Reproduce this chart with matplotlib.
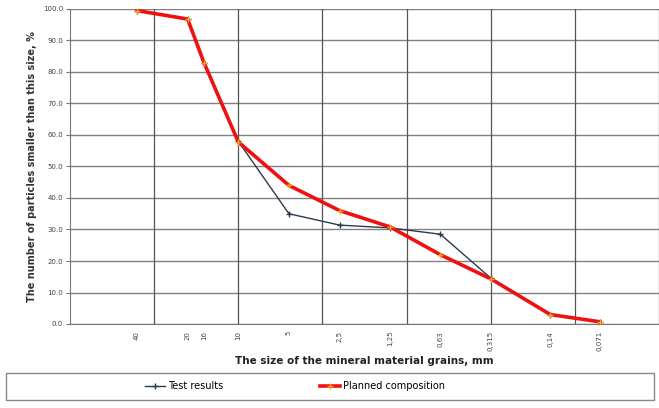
import matplotlib.pyplot as plt
from matplotlib.patches import Rectangle
import numpy as np

# sieve sizes, mm
sizes = [40, 20, 16, 10, 5, 2.5, 1.25, 0.63, 0.315, 0.14, 0.071]
size_labels = ["40", "20", "16", "10", "5", "2,5", "1,25", "0,63", "0,315", "0,14", "0,071"]

# passing, %
test_results = [99.5, 96.8, 83.0, 58.0, 35.0, 31.4, 30.5, 28.5, 14.5, 3.0, 0.7]
planned = [99.5, 96.8, 83.0, 57.8, 44.0, 36.0, 30.8, 22.0, 14.3, 3.0, 0.7]

y_ticks = np.arange(0, 101, 10)

fig = plt.figure(figsize=(6.59, 4.08), dpi=100)
ax = fig.add_axes([70 / 659, 1 - 324 / 408, 589 / 659, 315 / 408])

ax.plot(sizes, test_results, color="#2b3a4a", lw=1.0, marker="+", ms=4,
        mew=1.0, label="Test results", zorder=3)
ax.plot(sizes, planned, color="#ee1111", lw=2.6, marker="+", ms=5,
        mew=1.0, mec="#f5a623", label="Planned composition", zorder=4)

ax.set_xscale("log")
ax.set_xlim(100, 10 ** -1.5)
ax.set_ylim(0, 100)

# vertical grid every half decade
for k in range(-3, 4):
    ax.axvline(10 ** (k / 2), color="#555555", lw=0.9, zorder=1)
ax.set_yticks(y_ticks)
ax.set_yticklabels([f"{v:.1f}" for v in y_ticks], fontsize=5, color="#444444")
ax.yaxis.grid(True, color="#808080", lw=1.0)
ax.set_axisbelow(True)

ax.set_xticks(sizes)
ax.set_xticklabels(size_labels, rotation=90, fontsize=5, color="#444444")
ax.xaxis.set_minor_locator(plt.NullLocator())
ax.tick_params(axis="x", length=0, pad=5)
ax.tick_params(axis="y", length=3, color="#777777", pad=2)

for side in ["top", "right"]:
    ax.spines[side].set_visible(False)
ax.spines["left"].set_color("#777777")
ax.spines["bottom"].set_color("#777777")

ax.set_ylabel("The number of particles smaller than this size, %", fontsize=7,
              fontweight="bold", color="#333333", labelpad=4)
ax.set_xlabel("The size of the mineral material grains, mm", fontsize=7.5,
              fontweight="bold", color="#222222")
ax.xaxis.set_label_coords(0.5, -0.1)

fig.patches.append(Rectangle((6 / 659, 1 - 400 / 408), 648 / 659, 27 / 408,
                             transform=fig.transFigure, fill=False,
                             edgecolor="#888888", lw=1.0))
fig.legend(loc="center", bbox_to_anchor=(295 / 659, 1 - 386 / 408), ncol=2,
           frameon=False, columnspacing=10, handlelength=2,
           handletextpad=0.3, prop={"size": 7})

fig.savefig("out.png", dpi=100)
